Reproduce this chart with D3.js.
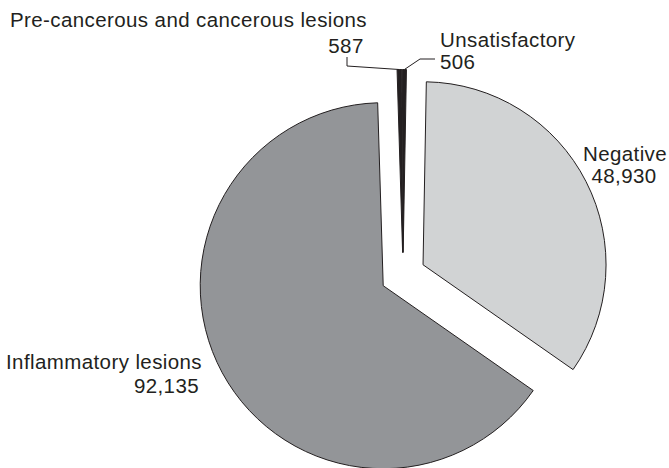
<!DOCTYPE html>
<html>
<head>
<meta charset="utf-8">
<script src="https://cdn.jsdelivr.net/npm/d3@7"></script>
<style>
  html, body { margin: 0; padding: 0; background: #fff; }
  svg { display: block; }
  text { font-family: "Liberation Sans", Arial, Helvetica, sans-serif; fill: #231f20; }
</style>
</head>
<body>
<svg id="chart" width="669" height="468"></svg>
<script>
// ---- data ----
const categories = ["Negative", "Inflammatory lesions", "Pre-cancerous and cancerous lesions", "Unsatisfactory"];
const values = [48930, 92135, 587, 506];
const valueLabels = ["48,930", "92,135", "587", "506"];
const colors = ["#d1d3d4", "#939598", "#231f20", "#231f20"];

// ---- layout ----
const W = 669, H = 468;
const cx = 403, cy = 275, R = 183, explode = 22.5;
const rot = 1.03 * Math.PI / 180;

const svg = d3.select("#chart");
const g = svg.append("g").attr("transform", `translate(${cx},${cy})`);

const pie = d3.pie().sort(null).value(d => d.v)
  .startAngle(rot).endAngle(2 * Math.PI + rot);
const arcs = pie(values.map((v, i) => ({ v, i })));
const arc = d3.arc().innerRadius(0).outerRadius(R);

function offset(a, dist) {
  const m = (a.startAngle + a.endAngle) / 2;
  return [Math.sin(m) * dist, -Math.cos(m) * dist];
}

g.selectAll("path.slice").data(arcs).join("path")
  .attr("class", "slice")
  .attr("d", arc)
  .attr("transform", d => { const o = offset(d, explode); return `translate(${o[0]},${o[1]})`; })
  .attr("fill", d => colors[d.data.i])
  .attr("stroke", "#231f20")
  .attr("stroke-width", 1)
  .attr("stroke-linejoin", "miter");

// leader lines for tiny slices
const tip = a => offset(a, R + explode);
const pPre = tip(arcs[2]);
const pUns = tip(arcs[3]);
const line = d3.line();
g.append("path")
  .attr("d", line([[pPre[0], pPre[1]], [347 - cx, 66 - cy], [347 - cx, 57 - cy]]))
  .attr("fill", "none").attr("stroke", "#231f20").attr("stroke-width", 1);
g.append("path")
  .attr("d", line([[pUns[0], pUns[1]], [420 - cx, 59 - cy], [435 - cx, 59 - cy]]))
  .attr("fill", "none").attr("stroke", "#231f20").attr("stroke-width", 1);

// labels
const fs = 20.5, ls = 0.4;
function label(x, y, txt, anchor) {
  svg.append("text").attr("x", x).attr("y", y)
    .attr("text-anchor", anchor)
    .attr("font-size", fs)
    .attr("letter-spacing", ls)
    .text(txt);
}
label(10, 27, categories[2], "start");
label(346, 53, valueLabels[2], "middle");
label(440, 47, categories[3], "start");
label(440, 69, valueLabels[3], "start");
label(625, 161, categories[0], "middle");
label(624, 183, valueLabels[0], "middle");
label(202, 369, categories[1], "end");
label(199, 393, valueLabels[1], "end");
</script>
</body>
</html>
